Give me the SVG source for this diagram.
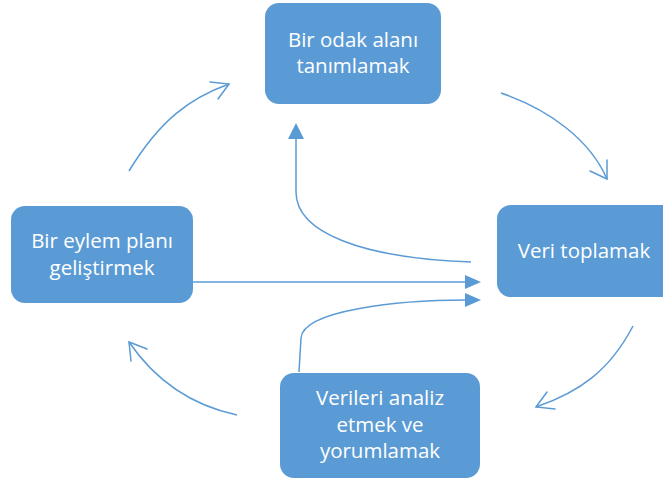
<svg xmlns="http://www.w3.org/2000/svg" width="663" height="483" viewBox="0 0 663 483">
<defs>
<style>
.box{fill:#5B9BD5;}
.t{font-family:"Open Sans","Noto Sans",sans-serif;font-size:20.5px;fill:#ffffff;text-anchor:middle;}
.c{fill:none;stroke:#5B9BD5;stroke-width:1.5;}
.h{fill:none;stroke:#5B9BD5;stroke-width:1.5;stroke-linecap:round;}
.a{fill:#5B9BD5;}
</style>
</defs>
<rect width="663" height="483" fill="#ffffff"/>
<g id="connectors">
<path class="c" d="M129,171 C160,120 190,98 229,84"/>
<path class="h" d="M210,82 L229,84 L218,99"/>
<path class="c" d="M501,93 C550,110 590,140 607,179"/>
<path class="h" d="M607,160 L607,179 L590,171"/>
<path class="c" d="M633,326 C610,370 580,392 536,407"/>
<path class="h" d="M547,392 L536,407 L555,409"/>
<path class="c" d="M237,415 C190,405 155,380 129,342"/>
<path class="h" d="M147,349 L129,342 L131,361"/>
<path class="c" d="M471,262 C360,258 296,232 296,192 L296,138"/>
<path class="a" d="M288,139 L296,123 L304,139 Z"/>
<path class="c" d="M192,282 L466,282"/>
<path class="a" d="M465,275 L481,282 L465,289 Z"/>
<path class="c" d="M299,372 L301,338 C303,310 400,300 466,300"/>
<path class="a" d="M465,293 L481,300 L465,307 Z"/>
</g>
<g id="n1">
<rect class="box" x="265" y="3" width="176" height="101" rx="14"/>
<text class="t" x="353" y="47">Bir odak alanı</text>
<text class="t" x="353" y="73">tanımlamak</text>
</g>
<g id="n2">
<rect class="box" x="497" y="205" width="180" height="92" rx="14"/>
<text class="t" x="584" y="258">Veri toplamak</text>
</g>
<g id="n3">
<rect class="box" x="280" y="373" width="200" height="105" rx="14"/>
<text class="t" x="380" y="405">Verileri analiz</text>
<text class="t" x="380" y="432">etmek ve</text>
<text class="t" x="380" y="458">yorumlamak</text>
</g>
<g id="n4">
<rect class="box" x="11" y="206" width="182" height="97" rx="14"/>
<text class="t" x="102" y="248">Bir eylem planı</text>
<text class="t" x="102" y="275">geliştirmek</text>
</g>
</svg>
